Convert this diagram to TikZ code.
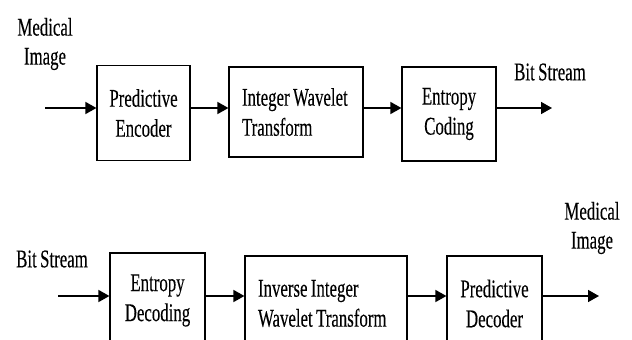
\documentclass[tikz,border=0pt]{standalone}
\usepackage{fontspec}
\setmainfont[FakeStretch=0.66,WordSpace=0.8,FakeBold=0.2]{Liberation Serif}
\usetikzlibrary{arrows.meta}
\begin{document}
\begin{tikzpicture}[x=1pt,y=-1pt,
  font=\fontsize{25.5}{30}\selectfont,
  blk/.style={draw, line width=1.2pt, inner sep=0pt},
  arr/.style={line width=1.6pt, -{Triangle[length=11pt,width=12pt]}},
  lbl/.style={inner sep=0pt, align=center}]
\useasboundingbox (0,0) rectangle (632,340);
\clip (0,0) rectangle (632,340);
\fill[white] (0,0) rectangle (632,340);
% top row
\node[blk, minimum width=93pt, minimum height=95pt, align=center] (b1) at (143.5,113) {Predictive\\Encoder};
\node[blk, minimum width=134pt, minimum height=90pt, align=flush left, text width=108pt] (b2) at (296,112) {Integer Wavelet\\Transform};
\node[blk, minimum width=94pt, minimum height=94pt, align=center] (b3) at (449,114) {Entropy\\Coding};
\node[lbl, font=\fontsize{25.5}{29}\selectfont] (mi1) at (45,44) {Medical\\Image};
\node[lbl] (bs1) at (550,72) {Bit Stream};
\coordinate (in1) at (45,108);
\coordinate (out1) at (552,108);
\draw[arr] (in1) -- (b1.west |- in1);
\draw[arr] (b1.east |- in1) -- (b2.west |- in1);
\draw[arr] (b2.east |- in1) -- (b3.west |- in1);
\draw[arr] (b3.east |- in1) -- (out1);
% bottom row
\node[blk, minimum width=95pt, minimum height=95pt, align=center] (b4) at (157.5,300.5) {Entropy\\Decoding};
\node[blk, minimum width=162pt, minimum height=95pt, align=flush left, text width=136pt] (b5) at (326,303.5) {Inverse Integer\\Wavelet Transform};
\node[blk, minimum width=95pt, minimum height=95pt, align=center] (b6) at (494.5,303.5) {Predictive\\Decoder};
\node[lbl] (bs2) at (52,259) {Bit Stream};
\node[lbl, font=\fontsize{25.5}{29}\selectfont] (mi2) at (592,228) {Medical\\Image};
\coordinate (in2) at (58,296);
\coordinate (out2) at (599,296);
\draw[arr] (in2) -- (b4.west |- in2);
\draw[arr] (b4.east |- in2) -- (b5.west |- in2);
\draw[arr] (b5.east |- in2) -- (b6.west |- in2);
\draw[arr] (b6.east |- in2) -- (out2);
\end{tikzpicture}
\end{document}
